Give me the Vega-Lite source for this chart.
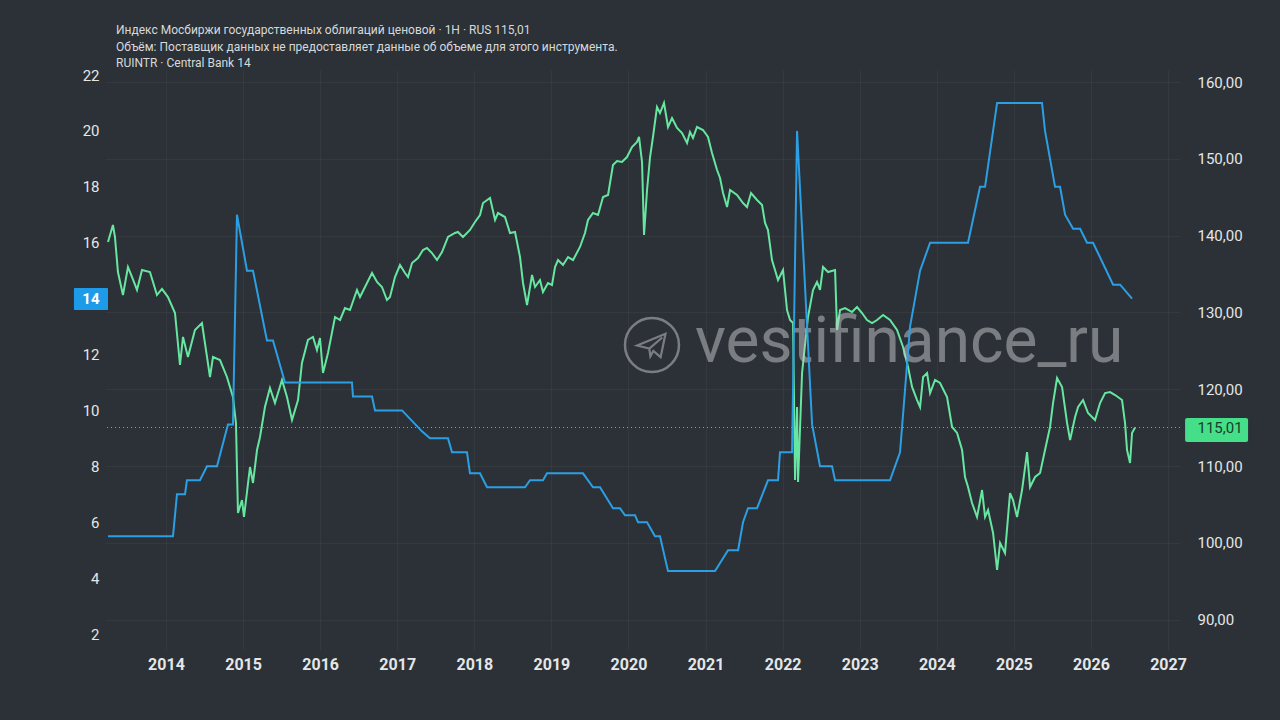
{
  "$schema": "https://vega.github.io/schema/vega-lite/v6.json",
  "autosize": {"type": "none"},
  "width": 1075,
  "height": 580,
  "padding": {"left": 105, "top": 70, "right": 100, "bottom": 70},
  "background": "#2b3136",
  "config": {
    "view": {"stroke": null},
    "font": "Roboto"
  },
  "title": {
    "text": "Индекс Мосбиржи государственных облигаций ценовой · 1H · RUS  115,01",
    "subtitle": ["Объём: Поставщик данных не предоставляет данные об объеме для этого инструмента.", "RUINTR · Central Bank  14"],
    "anchor": "start",
    "frame": "group",
    "dx": 11,
    "offset": -2,
    "font": "Roboto",
    "fontSize": 12,
    "fontWeight": "normal",
    "color": "#d6d9dc",
    "subtitleFont": "Roboto",
    "subtitleFontSize": 12,
    "subtitleColor": "#d6d9dc",
    "subtitlePadding": 5,
    "subtitleLineHeight": 16.5
  },
  "datasets": {
    "bond": [
      {"t": 2013.248, "v": 139.17}, {"t": 2013.312, "v": 141.38}, {"t": 2013.338, "v": 139.82}, {"t": 2013.377, "v": 135.26},
      {"t": 2013.442, "v": 132.26}, {"t": 2013.507, "v": 135.91}, {"t": 2013.559, "v": 134.61}, {"t": 2013.624, "v": 132.92},
      {"t": 2013.689, "v": 135.52}, {"t": 2013.792, "v": 135.26}, {"t": 2013.883, "v": 132.26}, {"t": 2013.948, "v": 133.05},
      {"t": 2014.026, "v": 132.00}, {"t": 2014.117, "v": 129.92}, {"t": 2014.182, "v": 123.15}, {"t": 2014.221, "v": 126.80},
      {"t": 2014.285, "v": 124.19}, {"t": 2014.376, "v": 127.71}, {"t": 2014.467, "v": 128.62}, {"t": 2014.571, "v": 121.59},
      {"t": 2014.610, "v": 124.19}, {"t": 2014.701, "v": 123.80}, {"t": 2014.791, "v": 121.59}, {"t": 2014.869, "v": 118.98},
      {"t": 2014.908, "v": 115.60}, {"t": 2014.934, "v": 103.88}, {"t": 2014.986, "v": 105.57}, {"t": 2015.012, "v": 103.36},
      {"t": 2015.090, "v": 109.87}, {"t": 2015.129, "v": 107.79}, {"t": 2015.181, "v": 112.08}, {"t": 2015.220, "v": 113.78},
      {"t": 2015.284, "v": 117.68}, {"t": 2015.349, "v": 120.16}, {"t": 2015.414, "v": 118.20}, {"t": 2015.505, "v": 121.20},
      {"t": 2015.570, "v": 118.98}, {"t": 2015.635, "v": 115.99}, {"t": 2015.713, "v": 118.59}, {"t": 2015.764, "v": 123.41},
      {"t": 2015.842, "v": 126.41}, {"t": 2015.907, "v": 126.80}, {"t": 2015.959, "v": 125.10}, {"t": 2015.998, "v": 126.67},
      {"t": 2016.037, "v": 122.11}, {"t": 2016.102, "v": 124.71}, {"t": 2016.193, "v": 129.40}, {"t": 2016.258, "v": 129.01},
      {"t": 2016.322, "v": 130.57}, {"t": 2016.387, "v": 130.31}, {"t": 2016.478, "v": 132.92}, {"t": 2016.517, "v": 132.00},
      {"t": 2016.582, "v": 133.31}, {"t": 2016.673, "v": 135.13}, {"t": 2016.738, "v": 133.96}, {"t": 2016.802, "v": 133.31},
      {"t": 2016.867, "v": 131.61}, {"t": 2016.906, "v": 132.00}, {"t": 2016.971, "v": 134.61}, {"t": 2017.036, "v": 136.17},
      {"t": 2017.101, "v": 135.13}, {"t": 2017.140, "v": 134.61}, {"t": 2017.192, "v": 136.43}, {"t": 2017.269, "v": 137.08},
      {"t": 2017.334, "v": 138.12}, {"t": 2017.386, "v": 138.39}, {"t": 2017.451, "v": 137.73}, {"t": 2017.516, "v": 136.82},
      {"t": 2017.581, "v": 137.86}, {"t": 2017.659, "v": 139.82}, {"t": 2017.749, "v": 140.34}, {"t": 2017.788, "v": 140.47},
      {"t": 2017.853, "v": 139.82}, {"t": 2017.944, "v": 140.73}, {"t": 2018.009, "v": 141.77}, {"t": 2018.074, "v": 142.68},
      {"t": 2018.113, "v": 144.24}, {"t": 2018.204, "v": 144.90}, {"t": 2018.269, "v": 142.03}, {"t": 2018.307, "v": 142.94},
      {"t": 2018.398, "v": 142.42}, {"t": 2018.463, "v": 140.34}, {"t": 2018.528, "v": 140.47}, {"t": 2018.593, "v": 137.21},
      {"t": 2018.632, "v": 133.83}, {"t": 2018.684, "v": 130.96}, {"t": 2018.749, "v": 134.87}, {"t": 2018.788, "v": 133.31},
      {"t": 2018.852, "v": 134.22}, {"t": 2018.891, "v": 132.66}, {"t": 2018.956, "v": 133.83}, {"t": 2019.008, "v": 133.57},
      {"t": 2019.047, "v": 135.91}, {"t": 2019.086, "v": 136.82}, {"t": 2019.151, "v": 136.17}, {"t": 2019.216, "v": 137.21},
      {"t": 2019.281, "v": 136.82}, {"t": 2019.371, "v": 138.52}, {"t": 2019.436, "v": 140.34}, {"t": 2019.475, "v": 142.03},
      {"t": 2019.540, "v": 142.94}, {"t": 2019.605, "v": 142.68}, {"t": 2019.670, "v": 145.03}, {"t": 2019.735, "v": 145.29},
      {"t": 2019.799, "v": 149.19}, {"t": 2019.851, "v": 149.71}, {"t": 2019.916, "v": 149.58}, {"t": 2019.981, "v": 150.23},
      {"t": 2020.046, "v": 151.54}, {"t": 2020.111, "v": 152.19}, {"t": 2020.137, "v": 152.84}, {"t": 2020.176, "v": 149.58},
      {"t": 2020.202, "v": 140.08}, {"t": 2020.241, "v": 145.94}, {"t": 2020.280, "v": 150.23}, {"t": 2020.318, "v": 152.84},
      {"t": 2020.370, "v": 156.74}, {"t": 2020.409, "v": 155.96}, {"t": 2020.461, "v": 157.27}, {"t": 2020.513, "v": 154.14},
      {"t": 2020.565, "v": 155.31}, {"t": 2020.630, "v": 154.01}, {"t": 2020.695, "v": 153.36}, {"t": 2020.760, "v": 152.06},
      {"t": 2020.798, "v": 153.49}, {"t": 2020.837, "v": 152.71}, {"t": 2020.889, "v": 154.14}, {"t": 2020.967, "v": 153.75},
      {"t": 2021.032, "v": 152.84}, {"t": 2021.084, "v": 150.76}, {"t": 2021.149, "v": 148.54}, {"t": 2021.188, "v": 147.50},
      {"t": 2021.227, "v": 145.55}, {"t": 2021.279, "v": 143.72}, {"t": 2021.318, "v": 145.94}, {"t": 2021.408, "v": 145.29},
      {"t": 2021.486, "v": 144.24}, {"t": 2021.538, "v": 143.72}, {"t": 2021.590, "v": 145.55}, {"t": 2021.668, "v": 144.64},
      {"t": 2021.733, "v": 143.98}, {"t": 2021.772, "v": 141.64}, {"t": 2021.810, "v": 140.73}, {"t": 2021.862, "v": 136.82},
      {"t": 2021.901, "v": 135.52}, {"t": 2021.940, "v": 134.22}, {"t": 2022.005, "v": 135.52}, {"t": 2022.057, "v": 130.31},
      {"t": 2022.096, "v": 129.01}, {"t": 2022.135, "v": 128.62}, {"t": 2022.161, "v": 108.18}, {"t": 2022.187, "v": 117.68},
      {"t": 2022.200, "v": 107.92}, {"t": 2022.252, "v": 122.11}, {"t": 2022.329, "v": 129.40}, {"t": 2022.394, "v": 132.92},
      {"t": 2022.446, "v": 133.96}, {"t": 2022.485, "v": 132.92}, {"t": 2022.524, "v": 135.91}, {"t": 2022.589, "v": 135.26},
      {"t": 2022.680, "v": 135.52}, {"t": 2022.706, "v": 127.71}, {"t": 2022.745, "v": 130.31}, {"t": 2022.810, "v": 130.57},
      {"t": 2022.900, "v": 130.05}, {"t": 2022.965, "v": 130.70}, {"t": 2023.030, "v": 129.92}, {"t": 2023.095, "v": 129.01},
      {"t": 2023.160, "v": 128.62}, {"t": 2023.225, "v": 129.01}, {"t": 2023.303, "v": 129.66}, {"t": 2023.393, "v": 129.01},
      {"t": 2023.484, "v": 127.71}, {"t": 2023.562, "v": 125.49}, {"t": 2023.627, "v": 122.89}, {"t": 2023.679, "v": 120.29},
      {"t": 2023.744, "v": 118.59}, {"t": 2023.783, "v": 117.68}, {"t": 2023.822, "v": 121.59}, {"t": 2023.874, "v": 122.11},
      {"t": 2023.913, "v": 119.50}, {"t": 2023.977, "v": 121.20}, {"t": 2024.042, "v": 120.81}, {"t": 2024.133, "v": 118.98},
      {"t": 2024.198, "v": 115.08}, {"t": 2024.263, "v": 114.30}, {"t": 2024.328, "v": 112.08}, {"t": 2024.366, "v": 108.57},
      {"t": 2024.405, "v": 107.26}, {"t": 2024.457, "v": 105.18}, {"t": 2024.522, "v": 103.36}, {"t": 2024.587, "v": 106.87},
      {"t": 2024.626, "v": 103.36}, {"t": 2024.665, "v": 104.27}, {"t": 2024.730, "v": 101.28}, {"t": 2024.782, "v": 96.46},
      {"t": 2024.821, "v": 99.97}, {"t": 2024.885, "v": 98.67}, {"t": 2024.950, "v": 106.48}, {"t": 2024.989, "v": 105.57},
      {"t": 2025.041, "v": 103.36}, {"t": 2025.106, "v": 106.87}, {"t": 2025.171, "v": 111.82}, {"t": 2025.210, "v": 107.26},
      {"t": 2025.275, "v": 108.57}, {"t": 2025.340, "v": 109.09}, {"t": 2025.404, "v": 112.08}, {"t": 2025.469, "v": 115.08},
      {"t": 2025.508, "v": 118.20}, {"t": 2025.560, "v": 121.46}, {"t": 2025.625, "v": 120.29}, {"t": 2025.690, "v": 115.60},
      {"t": 2025.729, "v": 113.38}, {"t": 2025.794, "v": 116.38}, {"t": 2025.833, "v": 117.68}, {"t": 2025.897, "v": 118.59},
      {"t": 2025.962, "v": 116.90}, {"t": 2026.053, "v": 115.99}, {"t": 2026.118, "v": 118.20}, {"t": 2026.183, "v": 119.50},
      {"t": 2026.248, "v": 119.63}, {"t": 2026.313, "v": 119.24}, {"t": 2026.403, "v": 118.59}, {"t": 2026.442, "v": 115.60},
      {"t": 2026.468, "v": 112.08}, {"t": 2026.507, "v": 110.39}, {"t": 2026.533, "v": 114.30}, {"t": 2026.572, "v": 115.01}
    ],
    "rate": [
      {"t": 2013.248, "v": 5.5}, {"t": 2014.091, "v": 5.5}, {"t": 2014.143, "v": 7.0}, {"t": 2014.247, "v": 7.0},
      {"t": 2014.272, "v": 7.5}, {"t": 2014.441, "v": 7.5}, {"t": 2014.532, "v": 8.0}, {"t": 2014.662, "v": 8.0},
      {"t": 2014.804, "v": 9.5}, {"t": 2014.869, "v": 9.5}, {"t": 2014.921, "v": 17.0}, {"t": 2015.051, "v": 15.0},
      {"t": 2015.129, "v": 15.0}, {"t": 2015.310, "v": 12.5}, {"t": 2015.388, "v": 12.5}, {"t": 2015.544, "v": 11.0},
      {"t": 2016.413, "v": 11.0}, {"t": 2016.426, "v": 10.5}, {"t": 2016.673, "v": 10.5}, {"t": 2016.712, "v": 10.0},
      {"t": 2017.062, "v": 10.0}, {"t": 2017.321, "v": 9.25}, {"t": 2017.425, "v": 9.0}, {"t": 2017.659, "v": 9.0},
      {"t": 2017.711, "v": 8.5}, {"t": 2017.905, "v": 8.5}, {"t": 2017.944, "v": 7.75}, {"t": 2018.074, "v": 7.75},
      {"t": 2018.165, "v": 7.25}, {"t": 2018.658, "v": 7.25}, {"t": 2018.723, "v": 7.5}, {"t": 2018.891, "v": 7.5},
      {"t": 2018.943, "v": 7.75}, {"t": 2019.410, "v": 7.75}, {"t": 2019.540, "v": 7.25}, {"t": 2019.631, "v": 7.25},
      {"t": 2019.799, "v": 6.5}, {"t": 2019.890, "v": 6.5}, {"t": 2019.955, "v": 6.25}, {"t": 2020.085, "v": 6.25},
      {"t": 2020.124, "v": 6.0}, {"t": 2020.241, "v": 6.0}, {"t": 2020.344, "v": 5.5}, {"t": 2020.409, "v": 5.5},
      {"t": 2020.513, "v": 4.25}, {"t": 2021.123, "v": 4.25}, {"t": 2021.292, "v": 5.0}, {"t": 2021.422, "v": 5.0},
      {"t": 2021.486, "v": 6.0}, {"t": 2021.551, "v": 6.5}, {"t": 2021.668, "v": 6.5}, {"t": 2021.810, "v": 7.5},
      {"t": 2021.940, "v": 7.5}, {"t": 2021.966, "v": 8.5}, {"t": 2022.122, "v": 8.5}, {"t": 2022.187, "v": 20.0},
      {"t": 2022.382, "v": 9.5}, {"t": 2022.485, "v": 8.0}, {"t": 2022.641, "v": 8.0}, {"t": 2022.680, "v": 7.5},
      {"t": 2023.393, "v": 7.5}, {"t": 2023.523, "v": 8.5}, {"t": 2023.653, "v": 13.0}, {"t": 2023.783, "v": 15.0},
      {"t": 2023.913, "v": 16.0}, {"t": 2024.405, "v": 16.0}, {"t": 2024.561, "v": 18.0}, {"t": 2024.626, "v": 18.0},
      {"t": 2024.782, "v": 21.0}, {"t": 2025.365, "v": 21.0}, {"t": 2025.404, "v": 20.0}, {"t": 2025.534, "v": 18.0},
      {"t": 2025.599, "v": 18.0}, {"t": 2025.664, "v": 17.0}, {"t": 2025.768, "v": 16.5}, {"t": 2025.859, "v": 16.5},
      {"t": 2025.949, "v": 16.0}, {"t": 2026.027, "v": 16.0}, {"t": 2026.287, "v": 14.5}, {"t": 2026.378, "v": 14.5},
      {"t": 2026.533, "v": 14.0}
    ]
  },
  "layer": [
    {
      "layer": [
        {
          "data": {"name": "bond"},
          "mark": {"type": "line", "color": "#66e6a0", "strokeWidth": 2},
          "encoding": {
            "x": {
              "field": "t", "type": "quantitative",
              "scale": {"domain": [2013.209, 2027.155], "nice": false, "zero": false},
              "axis": {
                "title": null, "values": [2014, 2015, 2016, 2017, 2018, 2019, 2020, 2021, 2022, 2023, 2024, 2025, 2026, 2027],
                "format": "d", "domain": false, "ticks": false, "tickSize": 0, "labelPadding": 6,
                "labelFont": "Roboto", "labelFontSize": 16, "labelFontWeight": "bold", "labelColor": "#e4e6e8",
                "grid": true, "gridColor": "rgba(255,255,255,0.045)", "gridWidth": 1, "labelFlush": false
              }
            },
            "y": {
              "field": "v", "type": "quantitative",
              "scale": {"domain": [86.042, 161.5625], "nice": false, "zero": false},
              "axis": {
                "title": null, "orient": "right", "zindex": 1,
                "values": [90, 100, 110, 115.01, 120, 130, 140, 150, 160],
                "labelExpr": "replace(format(datum.value, '.2f'), '.', ',')",
                "domain": false, "ticks": false, "tickSize": 0, "labelPadding": 17,
                "labelFont": "Roboto", "labelFontSize": 15, "labelAlign": "left",
                "labelColor": {"condition": {"test": "abs(datum.value - 115.01) < 0.001", "value": "#163d28"}, "value": "#e4e6e8"},
                "grid": true,
                "gridColor": {"condition": {"test": "abs(datum.value - 115.01) < 0.001", "value": "rgba(0,0,0,0)"}, "value": "rgba(255,255,255,0.045)"}
              }
            }
          }
        },
        {
          "data": {"values": [{}]},
          "mark": {"type": "rule", "color": "#66e6a0", "strokeWidth": 1, "strokeDash": [1, 3], "opacity": 0.8},
          "encoding": {"y": {"datum": 115.01, "title": null}}
        },
        {
          "data": {"values": [{}]},
          "mark": {"type": "rect", "color": "#45df8a", "cornerRadius": 2},
          "encoding": {
            "x": {"datum": 2027.221, "title": null}, "x2": {"datum": 2028.038},
            "y": {"datum": 116.25, "title": null}, "y2": {"datum": 113.12}
          }
        },
        {
          "data": {"values": [{}]},
          "mark": {"type": "text", "text": "vestifinance_ru", "align": "left", "baseline": "alphabetic", "font": "Roboto", "fontSize": 64, "color": "#c9cbcd", "opacity": 0.5},
          "encoding": {"x": {"datum": 2020.863, "title": null}, "y": {"datum": 123.54, "title": null}}
        },
        {
          "data": {"values": [{}]},
          "mark": {"type": "point", "shape": "circle", "size": 2916, "filled": false, "stroke": "#c9cbcd", "strokeWidth": 2.5, "opacity": 0.5},
          "encoding": {"x": {"datum": 2020.305, "title": null}, "y": {"datum": 125.75, "title": null}}
        },
        {
          "data": {"values": [{}]},
          "mark": {"type": "point", "shape": "M -0.55 0.02 L 0.5 -0.42 L 0.32 0.45 L 0.05 0.22 L -0.06 0.42 L -0.1 0.13 Z M -0.1 0.13 L 0.38 -0.28", "size": 2916, "filled": false, "stroke": "#c9cbcd", "strokeWidth": 2.2, "opacity": 0.5},
          "encoding": {"x": {"datum": 2020.305, "title": null}, "y": {"datum": 125.75, "title": null}}
        }
      ]
    },
    {
      "layer": [
        {
          "data": {"name": "rate"},
          "mark": {"type": "line", "color": "#2c9fe4", "strokeWidth": 2},
          "encoding": {
            "x": {"field": "t", "type": "quantitative", "scale": {"domain": [2013.209, 2027.155], "nice": false, "zero": false}},
            "y": {
              "field": "v", "type": "quantitative",
              "scale": {"domain": [1.428, 22.179], "nice": false, "zero": false},
              "axis": {
                "title": null, "orient": "left", "zindex": 1,
                "values": [2, 4, 6, 8, 10, 12, 14, 16, 18, 20, 22],
                "format": "d", "domain": false, "ticks": false, "tickSize": 0, "labelPadding": 6, "grid": false,
                "labelFont": "Roboto", "labelFontSize": 15,
                "labelFontWeight": {"condition": {"test": "datum.value === 14", "value": "bold"}, "value": "normal"},
                "labelColor": {"condition": {"test": "datum.value === 14", "value": "#ffffff"}, "value": "#e4e6e8"}
              }
            }
          }
        },
        {
          "data": {"values": [{}]},
          "mark": {"type": "rect", "color": "#1e9be8", "cornerRadius": 1},
          "encoding": {
            "x": {"datum": 2012.806, "title": null}, "x2": {"datum": 2013.248},
            "y": {"datum": 14.38, "title": null}, "y2": {"datum": 13.59}
          }
        }
      ]
    }
  ],
  "resolve": {"scale": {"y": "independent"}}
}
